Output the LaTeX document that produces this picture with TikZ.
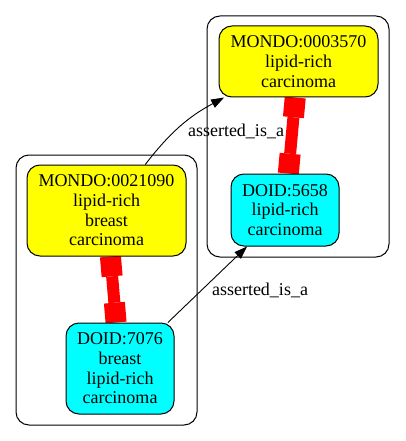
\documentclass[tikz,border=0pt]{standalone}
\usepackage{fontspec}
\setmainfont{Liberation Serif}
\usetikzlibrary{arrows.meta}
\pgfdeclarelayer{background}
\pgfsetlayers{background,main}
\definecolor{gvyellow}{RGB}{255,255,0}
\definecolor{gvcyan}{RGB}{0,255,255}
\definecolor{gvred}{RGB}{255,0,0}
\tikzset{
  term/.style={draw=black, line width=1pt, rounded corners=13pt, align=center,
    inner sep=0pt, font=\fontsize{18}{19.7}\selectfont},
  mondo/.style={term, fill=gvyellow},
  doid/.style={term, fill=gvcyan},
  cluster/.style={draw=black, line width=1pt, rounded corners=13pt},
  isa/.style={draw=black, line width=0.9pt, -{Triangle[length=13pt,width=9pt]}},
  eqthick/.style={draw=gvred, line width=21pt},
  eqthin/.style={draw=gvred, line width=12pt},
  edgelabel/.style={font=\fontsize{18}{19.7}\selectfont, inner sep=0pt, anchor=base}
}
\begin{document}
\begin{tikzpicture}[x=1pt,y=-1pt]
\useasboundingbox (0,0) rectangle (405,441);
% nodes
\node[mondo, minimum width=159pt, minimum height=91pt] (m1) at (106.5,210.5) {MONDO:0021090\\lipid-rich\\breast\\carcinoma};
\node[doid, minimum width=108pt, minimum height=91pt] (d1) at (120,368.5) {DOID:7076\\breast\\lipid-rich\\carcinoma};
\node[mondo, minimum width=159pt, minimum height=71pt] (m2) at (298.5,61.5) {MONDO:0003570\\lipid-rich\\carcinoma};
\node[doid, minimum width=108pt, minimum height=72pt] (d2) at (285,210) {DOID:5658\\lipid-rich\\carcinoma};
\begin{pgfonlayer}{background}
  % clusters
  \draw[cluster] (16,155) rectangle (197,425);
  \draw[cluster] (207,16) rectangle (389,257);
  % equivalence connectors
  \path (m1) -- (d1) coordinate[pos=0] (e1a) coordinate[pos=0.3] (e1b)
        coordinate[pos=0.7] (e1c) coordinate[pos=1] (e1d);
  \draw[eqthick] (e1a) -- (e1b);
  \draw[eqthin] (e1b) -- (e1c);
  \draw[eqthick] (e1c) -- (e1d);
  \path (m2) -- (d2) coordinate[pos=0] (e2a) coordinate[pos=0.26] (e2b)
        coordinate[pos=0.74] (e2c) coordinate[pos=1] (e2d);
  \draw[eqthick] (e2a) -- (e2b);
  \draw[eqthin] (e2b) -- (e2c);
  \draw[eqthick] (e2c) -- (e2d);
\end{pgfonlayer}
% is_a connectors
\draw[isa] (m1) to[bend left=12] (m2);
\draw[isa] (d1) -- (d2);
\node[edgelabel] (l1) at (236,136) {asserted\_is\_a};
\node[edgelabel] (l2) at (260,295) {asserted\_is\_a};
\end{tikzpicture}
\end{document}
